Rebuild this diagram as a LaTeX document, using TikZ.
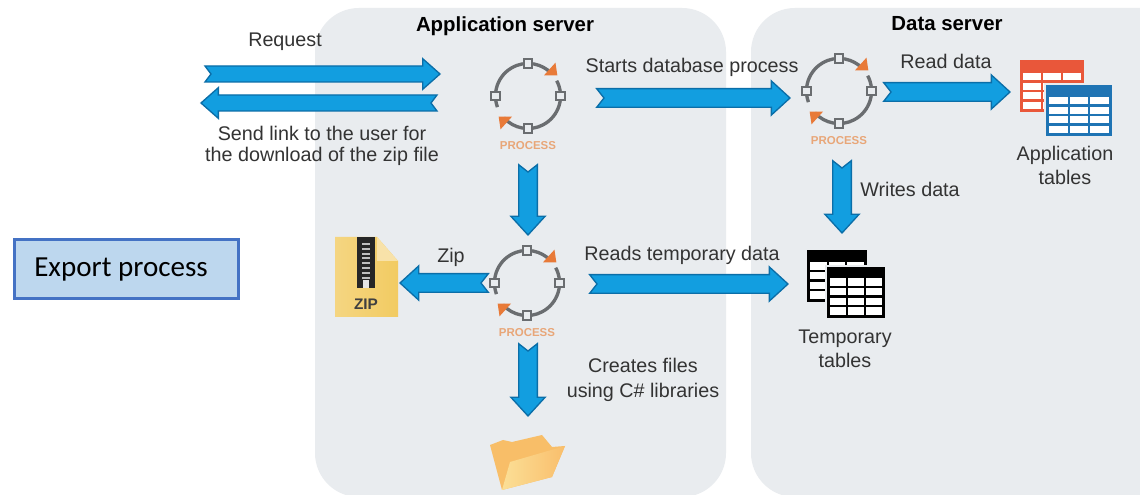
\documentclass[tikz,border=0pt]{standalone}
\usepackage{fontspec}
\setmainfont{Liberation Sans}
\newfontfamily\boxfont{Carlito}
\usetikzlibrary{calc,shadows}
\definecolor{panelgray}{HTML}{E9ECEF}
\definecolor{flowdark}{HTML}{0B6EA8}
\definecolor{flowfill}{HTML}{129EE0}
\definecolor{ringgray}{HTML}{6A6D70}
\definecolor{ringorange}{HTML}{E87A38}
\definecolor{labelorange}{HTML}{E8A678}
\definecolor{tblred}{HTML}{E9573A}
\definecolor{tblblue}{HTML}{1F74B4}
\definecolor{boxfill}{HTML}{BDD7EE}
\definecolor{boxline}{HTML}{4472C4}
\definecolor{zipyellow}{HTML}{F2CB62}
\definecolor{folderback}{HTML}{F8BE68}
\definecolor{folderlight}{HTML}{FBDF96}
\definecolor{foldermid}{HTML}{F9BE6C}
\newcommand{\flowW}{7pt}
\newcommand{\flowH}{12.8pt}
\newcommand{\flowL}{14pt}
\newcommand{\flowN}{5.5pt}
\tikzset{
  panel/.style={fill=panelgray,draw=none,rounded corners=33pt},
  lbl/.style={font=\fontsize{14.8}{16}\selectfont,text=black!80,inner sep=0pt,align=center,text height=0.72em,text depth=0.2em,yshift=-2.6pt},
  head/.style={font=\fontsize{15.3}{17}\selectfont\bfseries,text=black,inner sep=0pt},
  slimflow/.code={\def\flowW{6pt}\def\flowH{11.5pt}\def\flowL{13pt}\def\flowN{4.5pt}},
  flow/.style={draw=flowdark,fill=flowfill,line width=1pt,line join=miter,
    to path={
      -- ($(\tikztostart)!-\flowN!(\tikztotarget)!\flowW!90:(\tikztotarget)$)
      -- ($(\tikztotarget)!\flowL!(\tikztostart)!\flowW!-90:(\tikztostart)$)
      -- ($(\tikztotarget)!\flowL!(\tikztostart)!\flowH!-90:(\tikztostart)$)
      -- (\tikztotarget)
      -- ($(\tikztotarget)!\flowL!(\tikztostart)!\flowH!90:(\tikztostart)$)
      -- ($(\tikztotarget)!\flowL!(\tikztostart)!\flowW!90:(\tikztostart)$)
      -- ($(\tikztostart)!-\flowN!(\tikztotarget)!\flowW!-90:(\tikztotarget)$)
      -- cycle}},
  ringsq/.style={draw=ringgray,fill=panelgray,line width=1.6pt,minimum size=6.5pt,inner sep=0pt,rectangle},
  procicon/.pic={
    \draw[ringgray,line width=2.5pt] (200:24.4pt) arc[start angle=200,end angle=46,radius=24.4pt];
    \draw[ringgray,line width=2.5pt] (28:24.4pt) arc[start angle=28,end angle=-138,radius=24.4pt];
    \fill[ringorange] (22pt,15.5pt) -- (20.6pt,25pt) -- (12pt,15.5pt) -- cycle;
    \fill[ringorange] (-22pt,-15.5pt) -- (-20.6pt,-25pt) -- (-12pt,-15.5pt) -- cycle;
    \node[ringsq] (-n) at (90:24.4pt) {};
    \node[ringsq] (-e) at (0:24.4pt) {};
    \node[ringsq] (-s) at (-90:24.4pt) {};
    \node[ringsq] (-w) at (180:24.4pt) {};
    \node[font=\fontsize{8.6}{10}\selectfont\bfseries,text=labelorange,inner sep=0pt] (-label) at (0,-37.5pt) {PROCESS};
  }
}
% x y w h header-height columns rows colour(head/frame) 
\newcommand{\tablegrid}[8]{%
  \fill[#8] (#1,#2) rectangle ++(#3,#4);
  \pgfmathsetmacro{\cw}{(#3-4)/#6}
  \pgfmathsetmacro{\ch}{(#4-#5-2)/#7}
  \foreach \c in {1,...,#6}{
    \foreach \r in {1,...,#7}{
      \fill[white] ({#1+2+(\c-1)*\cw+1},{#2+#5+(\r-1)*\ch+1.2}) rectangle ++({\cw-2},{\ch-2.4});
    }
  }
}
\begin{document}
\begin{tikzpicture}[x=0.75pt,y=-0.75pt]
\useasboundingbox (0,0) rectangle (1140,495);
\fill[white] (0,0) rectangle (1140,495);
% panels
\fill[panel] (315,8) rectangle (726,497);
\fill[panel] (751,8) rectangle (1190,497);
\node[head] (appt) at (505,26) {Application server};
\node[head] (datat) at (947,24) {Data server};
% process icons
\pic (p1) at (528,96) {procicon};
\pic (p2) at (839,91) {procicon};
\pic (p3) at (527,283) {procicon};
% arrow end points
\coordinate (reqA) at (211,74);
\coordinate (reqB) at (440,74);
\coordinate (resA) at (431,103);
\coordinate (resB) at (201,103);
\coordinate (dbA) at (604,98);
\coordinate (dbB) at (790,98);
\coordinate (rdA) at (891,92);
\coordinate (rdB) at (1010,92);
\coordinate (dnA) at (528,172);
\coordinate (dnB) at (528,235);
\coordinate (wrA) at (842,168);
\coordinate (wrB) at (842,233);
\coordinate (zpA) at (481,283);
\coordinate (zpB) at (400,283);
\coordinate (rtA) at (597,284);
\coordinate (rtB) at (788,284);
\coordinate (crA) at (528,351);
\coordinate (crB) at (528,416);
\draw[flow,slimflow] (reqA) to (reqB);
\draw[flow,slimflow] (resA) to (resB);
\draw[flow] (dbA) to (dbB);
\draw[flow] (rdA) to (rdB);
\draw[flow] (dnA) to (dnB);
\draw[flow] (wrA) to (wrB);
\draw[flow] (zpA) to (zpB);
\draw[flow] (rtA) to (rtB);
\draw[flow] (crA) to (crB);
% labels
\node[lbl] (treq) at (285,40) {Request};
\node[lbl] (tres1) at (322,134) {Send link to the user for};
\node[lbl] (tres2) at (322,155) {the download of the zip file};
\node[lbl] (tdb) at (692,66) {Starts database process};
\node[lbl] (trd) at (946,62) {Read data};
\node[lbl] (ta1) at (1065,154) {Application};
\node[lbl] (ta2) at (1065,178) {tables};
\node[lbl] (twr) at (910,190) {Writes data};
\node[lbl] (tzp) at (451,256) {Zip};
\node[lbl] (trt) at (682,254) {Reads temporary data};
\node[lbl] (tc1) at (643,366) {Creates files};
\node[lbl] (tc2) at (643,391) {using C\# libraries};
\node[lbl] (tt1) at (845,337) {Temporary};
\node[lbl] (tt2) at (845,361) {tables};
% application tables icon
\tablegrid{1020}{60}{64}{52}{12}{3}{4}{tblred}
\fill[panelgray] (1044,83) rectangle (1114,138);
\tablegrid{1046}{85}{66}{51}{11}{3}{4}{tblblue}
% temporary tables icon
\tablegrid{807}{250}{60}{52}{11}{3}{4}{black}
\fill[panelgray] (825,265) rectangle (887,320);
\tablegrid{827}{267}{58}{51}{10}{3}{4}{black}
% zip icon
\shade[left color=zipyellow!80!white,right color=zipyellow] (335,237) -- (377,237) -- (398,261) -- (398,317) -- (335,317) -- cycle;
\fill[zipyellow!55!white] (377,237) -- (377,261) -- (398,261) -- cycle;
\fill[black!85] (357,237) rectangle (375,288);
\foreach \k in {0,...,7}{\fill[white!75!black] (362,{243+\k*4.8}) rectangle (370,{245+\k*4.8});}
\fill[white!90!black] (363,280) rectangle (369,288);
\node[font=\fontsize{11.5}{12}\selectfont\bfseries,text=black!75,inner sep=0pt] (zipt) at (366,304) {ZIP};
% folder icon
\fill[folderback] (490,445) -- (503,440) -- (512,442) -- (542,435) -- (552,447) -- (565,446) -- (552,477) -- (502,490) -- cycle;
\shade[left color=folderlight,right color=foldermid] (510,462) -- (565,446) -- (552,477) -- (502,490) -- cycle;
% export box
\node[draw=boxline,fill=boxfill,line width=2pt,minimum width=168pt,minimum height=44.5pt,inner sep=0pt,drop shadow={opacity=0.3,shadow xshift=1pt,shadow yshift=-1pt},anchor=north west] (exp) at (13,238) {};
\node[font=\boxfont\fontsize{21.8}{24}\selectfont,text=black,inner sep=0pt,anchor=west] (expt) at (34,269.5) {Export process};
\end{tikzpicture}
\end{document}
